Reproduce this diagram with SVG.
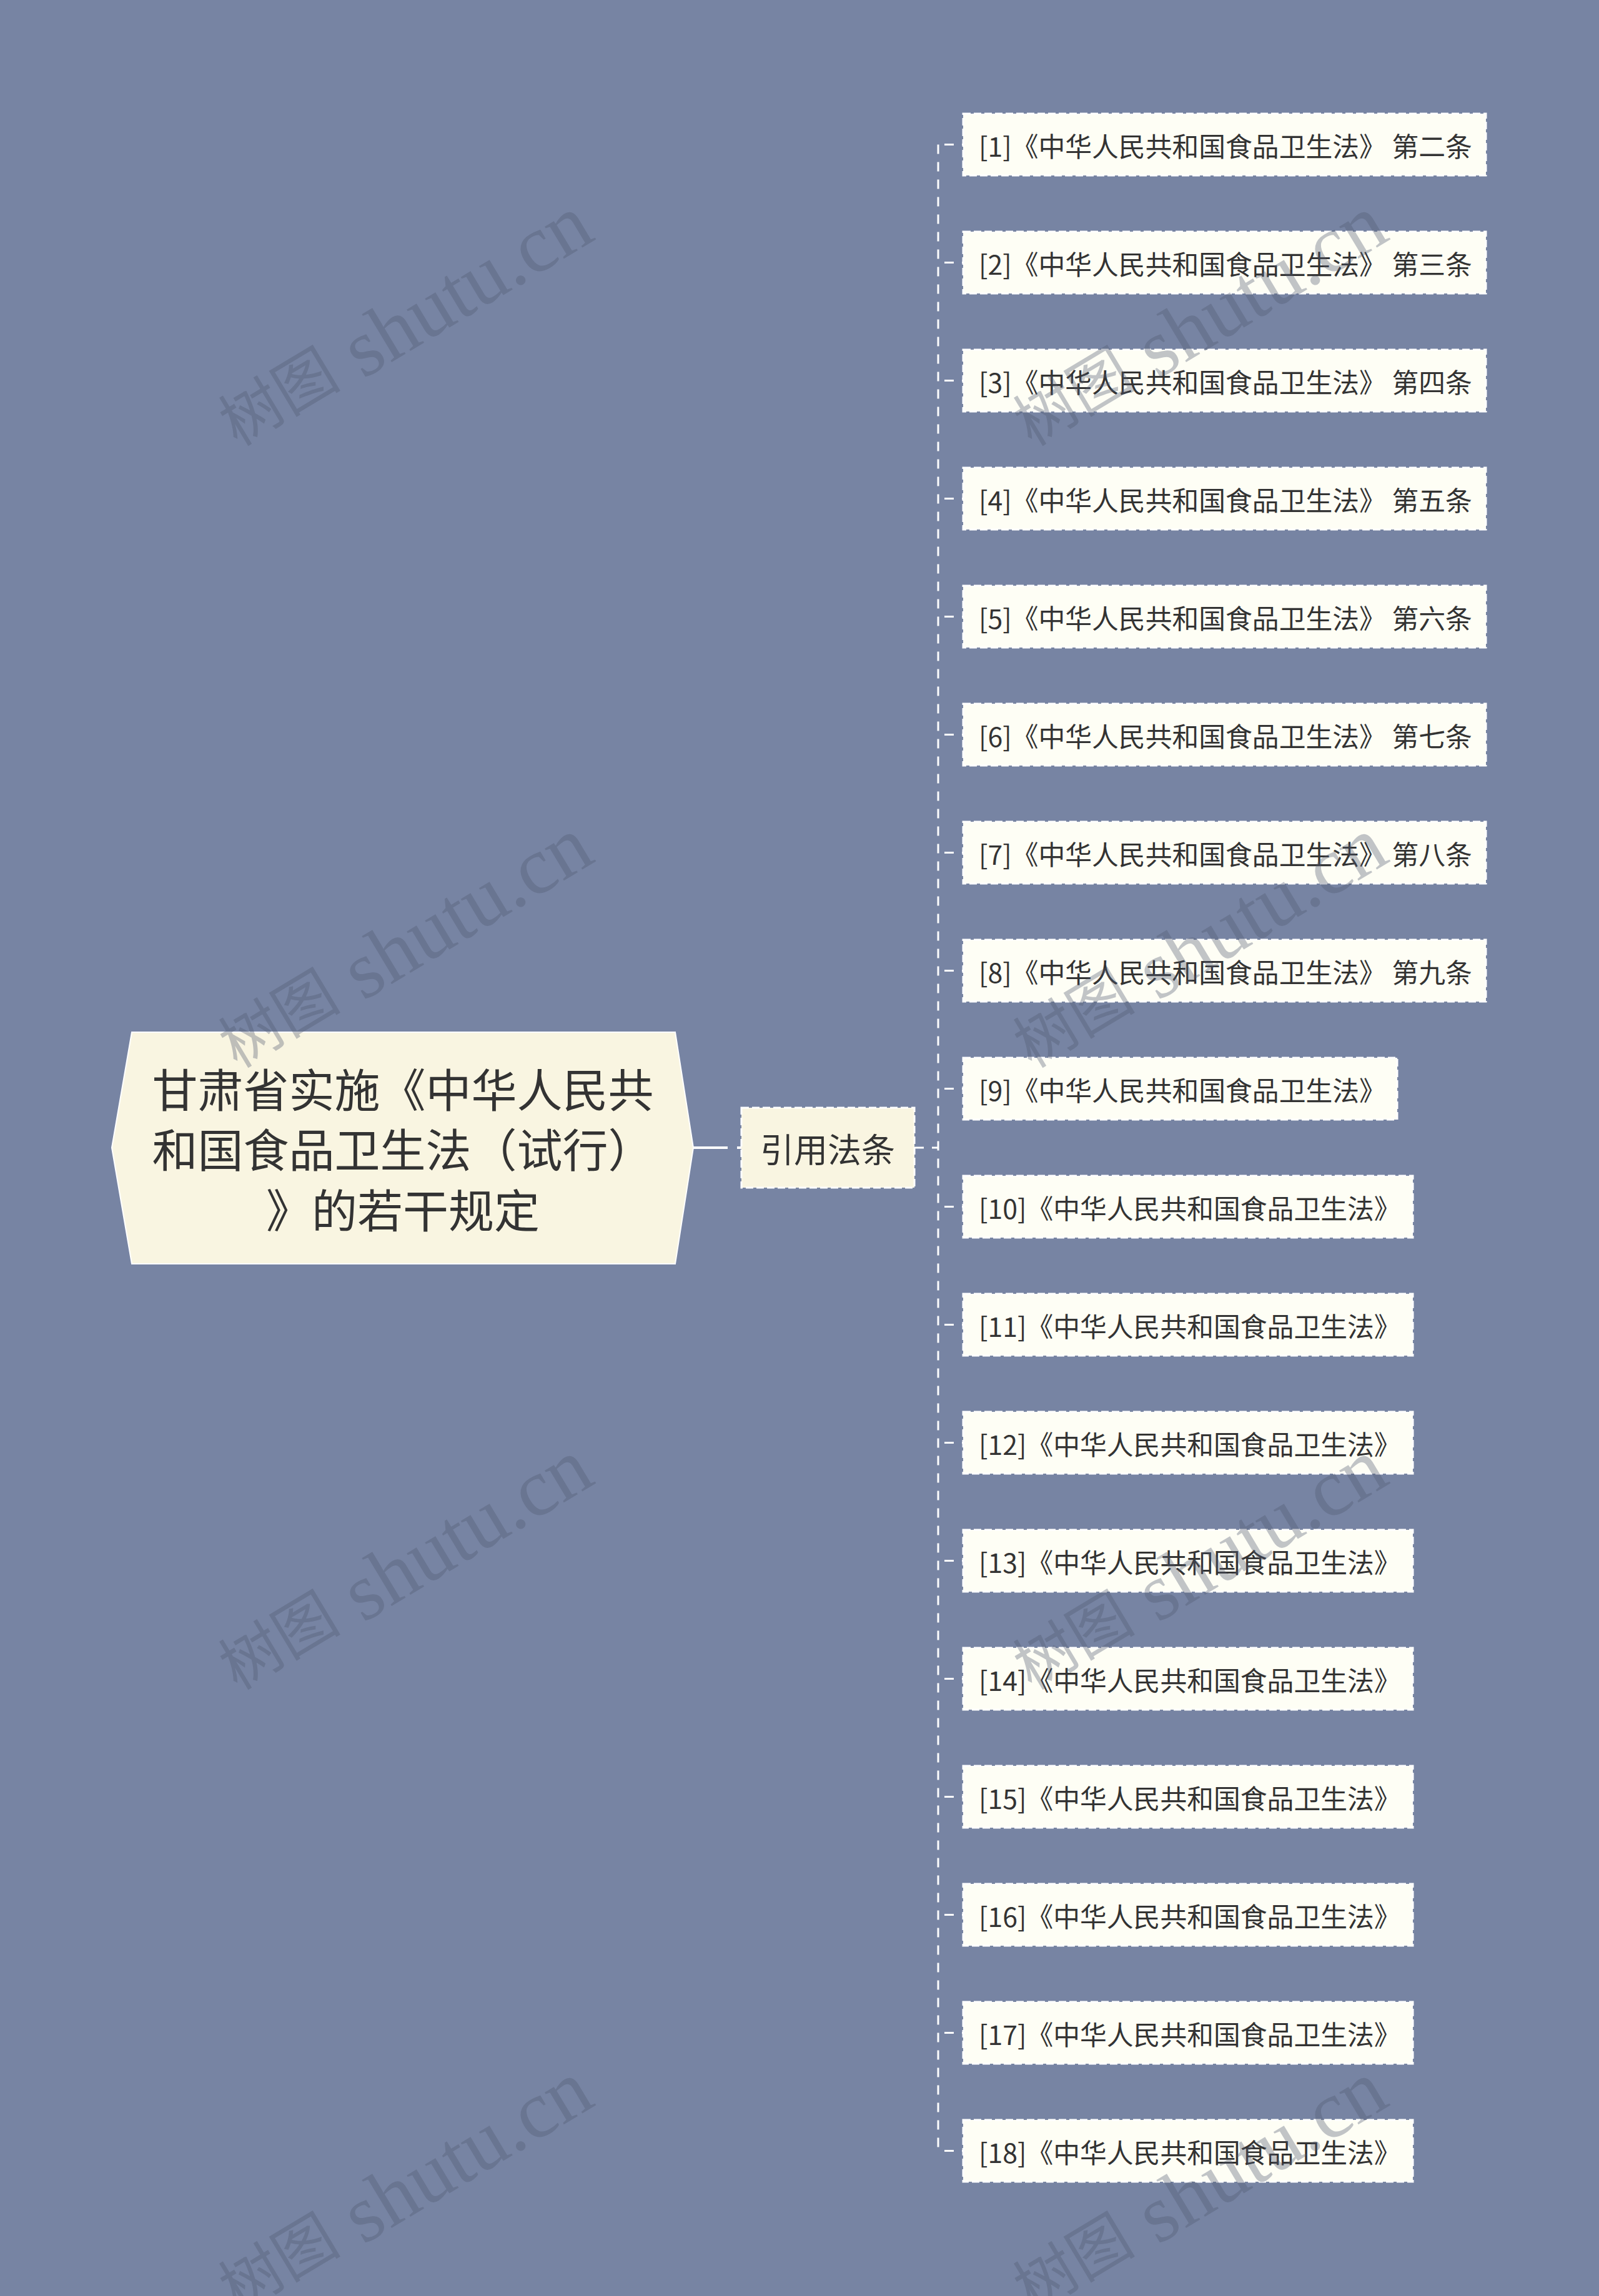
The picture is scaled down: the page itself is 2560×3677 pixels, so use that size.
<svg xmlns="http://www.w3.org/2000/svg" width="2560" height="3677" viewBox="0 0 2560 3677">
<style>
.bg{fill:#7784a3}
.root{fill:#f9f5e1;stroke:#ffffff;stroke-width:2}
.mid{fill:#f9f5e1;stroke:#ffffff;stroke-width:3;stroke-dasharray:12 5}
.leaf{fill:#fefef5;stroke:#ffffff;stroke-width:3;stroke-dasharray:12 5}
.t{font-family:"Noto Sans CJK SC","Noto Sans",sans-serif;fill:#333333;dominant-baseline:central}
.rt{font-size:73px;text-anchor:middle}
.mt{font-size:54px;text-anchor:middle}
.lt{font-size:42.8px}
.conn{fill:none;stroke:#ffffff;stroke-width:3;stroke-dasharray:15 13}
.br{fill:none;stroke:#ffffff;stroke-width:3;stroke-dasharray:15 13;stroke-dashoffset:18}
.wm{font-family:"Liberation Serif","Noto Sans CJK SC",serif;fill:#505a70;fill-opacity:0.35;text-anchor:middle;dominant-baseline:central}
.wc{font-size:98px}
.wl{font-size:130px}
</style>
<rect class="bg" x="0" y="0" width="2560" height="3677"/>

<g id="connectors">
<path d="M1110 1838 H1187" fill="none" stroke="#ffffff" stroke-width="4" stroke-dasharray="55 15 10 0"/>
<path class="conn" d="M1464 1838 H1502"/>
<path class="conn" d="M1502 231.5 V3444.5"/>
<path class="br" d="M1502 231.5 H1542"/>
<path class="br" d="M1502 420.5 H1542"/>
<path class="br" d="M1502 609.5 H1542"/>
<path class="br" d="M1502 798.5 H1542"/>
<path class="br" d="M1502 987.5 H1542"/>
<path class="br" d="M1502 1176.5 H1542"/>
<path class="br" d="M1502 1365.5 H1542"/>
<path class="br" d="M1502 1554.5 H1542"/>
<path class="br" d="M1502 1743.5 H1542"/>
<path class="br" d="M1502 1932.5 H1542"/>
<path class="br" d="M1502 2121.5 H1542"/>
<path class="br" d="M1502 2310.5 H1542"/>
<path class="br" d="M1502 2499.5 H1542"/>
<path class="br" d="M1502 2688.5 H1542"/>
<path class="br" d="M1502 2877.5 H1542"/>
<path class="br" d="M1502 3066.5 H1542"/>
<path class="br" d="M1502 3255.5 H1542"/>
<path class="br" d="M1502 3444.5 H1542"/>
</g>

<g id="root">
<polygon class="root" points="179,1838 211,1653 1081,1653 1110,1838 1081,2024 211,2024"/>
<text class="t rt" x="645" y="1741">甘肃省实施《中华人民共</text>
<text class="t rt" x="645" y="1837">和国食品卫生法（试行）</text>
<text class="t rt" x="645" y="1934">》的若干规定</text>
</g>

<g id="mid">
<rect class="mid" x="1187" y="1774" width="277" height="128"/>
<text class="t mt" x="1325" y="1838">引用法条</text>
</g>

<g id="leaf1"><rect class="leaf" x="1542" y="182" width="837" height="99"/><text class="t lt" x="1567" y="231.5">[1]《中华人民共和国食品卫生法》 第二条</text></g>
<g id="leaf2"><rect class="leaf" x="1542" y="371" width="837" height="99"/><text class="t lt" x="1567" y="420.5">[2]《中华人民共和国食品卫生法》 第三条</text></g>
<g id="leaf3"><rect class="leaf" x="1542" y="560" width="837" height="99"/><text class="t lt" x="1567" y="609.5">[3]《中华人民共和国食品卫生法》 第四条</text></g>
<g id="leaf4"><rect class="leaf" x="1542" y="749" width="837" height="99"/><text class="t lt" x="1567" y="798.5">[4]《中华人民共和国食品卫生法》 第五条</text></g>
<g id="leaf5"><rect class="leaf" x="1542" y="938" width="837" height="99"/><text class="t lt" x="1567" y="987.5">[5]《中华人民共和国食品卫生法》 第六条</text></g>
<g id="leaf6"><rect class="leaf" x="1542" y="1127" width="837" height="99"/><text class="t lt" x="1567" y="1176.5">[6]《中华人民共和国食品卫生法》 第七条</text></g>
<g id="leaf7"><rect class="leaf" x="1542" y="1316" width="837" height="99"/><text class="t lt" x="1567" y="1365.5">[7]《中华人民共和国食品卫生法》 第八条</text></g>
<g id="leaf8"><rect class="leaf" x="1542" y="1505" width="837" height="99"/><text class="t lt" x="1567" y="1554.5">[8]《中华人民共和国食品卫生法》 第九条</text></g>
<g id="leaf9"><rect class="leaf" x="1542" y="1694" width="695" height="99"/><text class="t lt" x="1567" y="1743.5">[9]《中华人民共和国食品卫生法》</text></g>
<g id="leaf10"><rect class="leaf" x="1542" y="1883" width="720" height="99"/><text class="t lt" x="1567" y="1932.5">[10]《中华人民共和国食品卫生法》</text></g>
<g id="leaf11"><rect class="leaf" x="1542" y="2072" width="720" height="99"/><text class="t lt" x="1567" y="2121.5">[11]《中华人民共和国食品卫生法》</text></g>
<g id="leaf12"><rect class="leaf" x="1542" y="2261" width="720" height="99"/><text class="t lt" x="1567" y="2310.5">[12]《中华人民共和国食品卫生法》</text></g>
<g id="leaf13"><rect class="leaf" x="1542" y="2450" width="720" height="99"/><text class="t lt" x="1567" y="2499.5">[13]《中华人民共和国食品卫生法》</text></g>
<g id="leaf14"><rect class="leaf" x="1542" y="2639" width="720" height="99"/><text class="t lt" x="1567" y="2688.5">[14]《中华人民共和国食品卫生法》</text></g>
<g id="leaf15"><rect class="leaf" x="1542" y="2828" width="720" height="99"/><text class="t lt" x="1567" y="2877.5">[15]《中华人民共和国食品卫生法》</text></g>
<g id="leaf16"><rect class="leaf" x="1542" y="3017" width="720" height="99"/><text class="t lt" x="1567" y="3066.5">[16]《中华人民共和国食品卫生法》</text></g>
<g id="leaf17"><rect class="leaf" x="1542" y="3206" width="720" height="99"/><text class="t lt" x="1567" y="3255.5">[17]《中华人民共和国食品卫生法》</text></g>
<g id="leaf18"><rect class="leaf" x="1542" y="3395" width="720" height="99"/><text class="t lt" x="1567" y="3444.5">[18]《中华人民共和国食品卫生法》</text></g>

<g id="watermarks">
<text class="wm" x="648" y="516" transform="rotate(-31 648 516)"><tspan class="wc">树图</tspan><tspan class="wl"> shutu.cn</tspan></text>
<text class="wm" x="1920" y="516" transform="rotate(-31 1920 516)"><tspan class="wc">树图</tspan><tspan class="wl"> shutu.cn</tspan></text>
<text class="wm" x="648" y="1512" transform="rotate(-31 648 1512)"><tspan class="wc">树图</tspan><tspan class="wl"> shutu.cn</tspan></text>
<text class="wm" x="1920" y="1512" transform="rotate(-31 1920 1512)"><tspan class="wc">树图</tspan><tspan class="wl"> shutu.cn</tspan></text>
<text class="wm" x="648" y="2508" transform="rotate(-31 648 2508)"><tspan class="wc">树图</tspan><tspan class="wl"> shutu.cn</tspan></text>
<text class="wm" x="1920" y="2508" transform="rotate(-31 1920 2508)"><tspan class="wc">树图</tspan><tspan class="wl"> shutu.cn</tspan></text>
<text class="wm" x="648" y="3504" transform="rotate(-31 648 3504)"><tspan class="wc">树图</tspan><tspan class="wl"> shutu.cn</tspan></text>
<text class="wm" x="1920" y="3504" transform="rotate(-31 1920 3504)"><tspan class="wc">树图</tspan><tspan class="wl"> shutu.cn</tspan></text>
</g>
</svg>
